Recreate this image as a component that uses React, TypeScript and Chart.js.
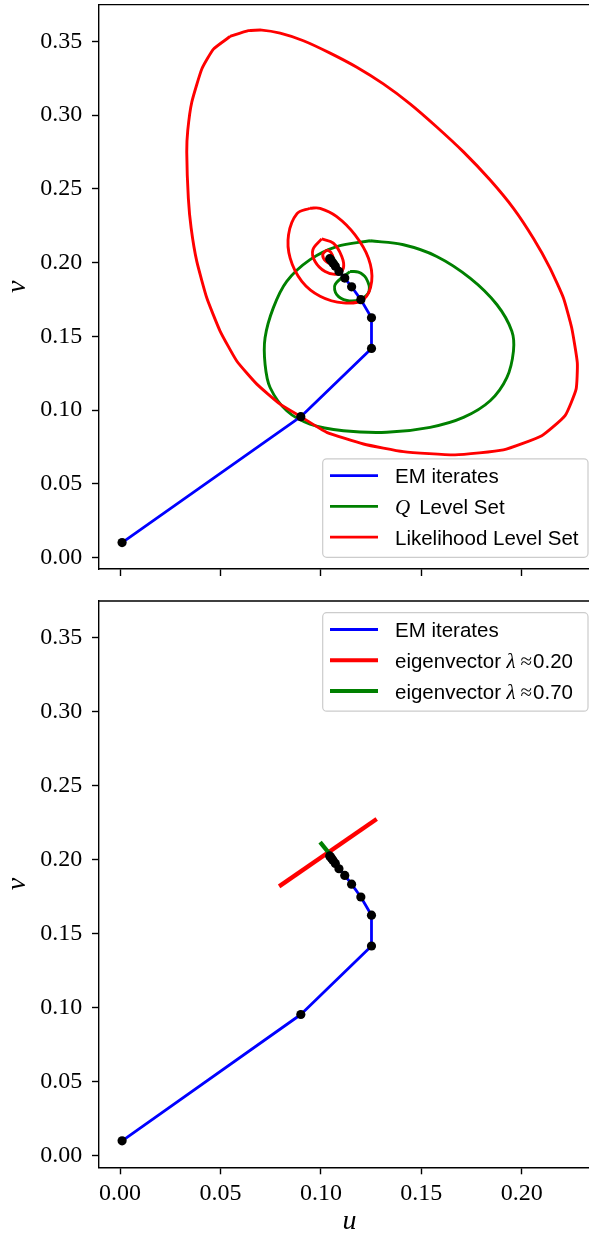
import React, { useEffect, useRef } from 'react';
import { Chart, registerables } from 'chart.js';

Chart.register(...registerables);

// ---- axes ----
const X_TICKS = [0, 0.05, 0.1, 0.15, 0.2];
const Y_TICKS = [0, 0.05, 0.1, 0.15, 0.2, 0.25, 0.3, 0.35];
const X_MIN = -0.0105;
const X_MAX = 0.239;
const Y_MIN = -0.0078;
const Y_MAX = 0.375;

// ---- EM iterates ----
const emU = [0.001, 0.09, 0.1252, 0.1252, 0.1199, 0.1153, 0.1119, 0.109, 0.1072, 0.106, 0.1052, 0.1047, 0.1044];
const emV = [0.0101, 0.0955, 0.1418, 0.1626, 0.1749, 0.1836, 0.1895, 0.194, 0.1976, 0.1998, 0.2012, 0.2021, 0.2027];

// ---- Likelihood level sets (red) ----
const likeOuterU = [0.0548, 0.0639, 0.0706, 0.0797, 0.0913, 0.1046, 0.1179, 0.1311, 0.1444, 0.1577, 0.171, 0.1843, 0.1959, 0.2058, 0.2141, 0.2208, 0.2249, 0.2277, 0.2271, 0.2216, 0.21, 0.1909, 0.1668, 0.1411, 0.1212, 0.1029, 0.09, 0.0797, 0.0681, 0.0581, 0.0498, 0.0432, 0.0382, 0.0354, 0.034, 0.0332, 0.0337, 0.0357, 0.0407, 0.0465, 0.0548];
const likeOuterV = [0.3534, 0.3573, 0.3577, 0.3556, 0.3505, 0.3421, 0.3325, 0.3212, 0.3077, 0.292, 0.2751, 0.256, 0.2368, 0.2165, 0.1963, 0.176, 0.1558, 0.1321, 0.1142, 0.0962, 0.0826, 0.073, 0.0696, 0.0718, 0.077, 0.0849, 0.0955, 0.104, 0.1176, 0.1333, 0.1536, 0.176, 0.2008, 0.2233, 0.2436, 0.2751, 0.2897, 0.3088, 0.3313, 0.3448, 0.3534];
const likeMidU = [0.0946, 0.0881, 0.0839, 0.0847, 0.0905, 0.0996, 0.1112, 0.1212, 0.1253, 0.1237, 0.117, 0.1079, 0.0996, 0.0946];
const likeMidV = [0.2369, 0.2332, 0.219, 0.203, 0.1873, 0.1772, 0.1727, 0.175, 0.1873, 0.203, 0.2188, 0.2312, 0.2368, 0.2369];
const likeSmallU = [0.1004, 0.096, 0.0971, 0.1021, 0.1082, 0.1112, 0.1104, 0.1062, 0.1004];
const likeSmallV = [0.2161, 0.2087, 0.2008, 0.194, 0.1922, 0.1963, 0.2042, 0.2132, 0.2161];
const likeTinyU = [0.1029, 0.1009, 0.1026, 0.1054, 0.1062, 0.1049, 0.1029];
const likeTinyV = [0.2087, 0.2053, 0.2008, 0.1997, 0.2026, 0.2071, 0.2087];

// ---- Q level sets (green) ----
const qBigU = [0.1245, 0.1411, 0.1577, 0.1743, 0.1876, 0.1951, 0.1959, 0.1926, 0.1843, 0.171, 0.1544, 0.1328, 0.1112, 0.0946, 0.083, 0.0747, 0.0722, 0.0722, 0.0763, 0.083, 0.0946, 0.1079, 0.1245];
const qBigV = [0.2148, 0.2121, 0.2042, 0.1895, 0.1716, 0.1535, 0.14, 0.122, 0.1063, 0.095, 0.0883, 0.0849, 0.086, 0.0905, 0.0995, 0.1153, 0.1311, 0.149, 0.1693, 0.1873, 0.202, 0.2109, 0.2148];
const qSmallU = [0.1145, 0.1071, 0.1079, 0.1129, 0.1195, 0.124, 0.1225, 0.1187, 0.1145];
const qSmallV = [0.194, 0.1851, 0.1783, 0.1743, 0.175, 0.1806, 0.1895, 0.1936, 0.194];
const qTinyU = [0.1055, 0.105, 0.106, 0.1075, 0.108, 0.1072, 0.1055];
const qTinyV = [0.201, 0.1995, 0.1978, 0.1975, 0.199, 0.2007, 0.201];

// ---- eigenvectors ----
const eigRedU = [0.0792, 0.1278];
const eigRedV = [0.1821, 0.2277];
const eigGreenU = [0.0996, 0.1079];
const eigGreenV = [0.212, 0.1981];

// ---- legend labels ----
const topLegend = ['EM iterates', 'Q|Level Set', 'Likelihood Level Set'];
const bottomLegend = ['EM iterates', 'eigenvector|λ|≈|0.20', 'eigenvector|λ|≈|0.70'];

const BLUE = '#0000ff';
const GREEN = '#008000';
const RED = '#ff0000';
const SERIF = '"Liberation Serif", "Times New Roman", serif';
const SANS_FONT = '20.5px "Liberation Sans", Arial, sans-serif';
const MATH_ITALIC = 'italic 21px "Liberation Serif", serif';
const MATH_UP = '21px "Liberation Serif", serif';

const pts = (us: number[], vs: number[]) => us.map((u, i) => ({ x: u, y: vs[i] }));

const curve = (us: number[], vs: number[], color: string, width: number, tension = 0) => ({
  data: pts(us, vs),
  showLine: true,
  borderColor: color,
  backgroundColor: color,
  borderWidth: width,
  borderJoinStyle: 'round',
  pointRadius: 0,
  pointHoverRadius: 0,
  tension,
  fill: false,
});

const emDataset = () => ({
  data: pts(emU, emV),
  showLine: true,
  borderColor: BLUE,
  borderWidth: 2.8,
  borderJoinStyle: 'round',
  pointRadius: 4.6,
  pointHoverRadius: 4.6,
  pointBackgroundColor: '#000',
  pointBorderColor: '#000',
  pointBorderWidth: 0,
  fill: false,
});

function makeScales(showXLabels: boolean, xAxisHeight: number) {
  const tickFont = { family: SERIF, size: 24 };
  return {
    x: {
      type: 'linear',
      min: X_MIN,
      max: X_MAX,
      afterBuildTicks: (s: any) => {
        s.ticks = X_TICKS.map((v) => ({ value: v }));
      },
      afterFit: (s: any) => {
        s.height = xAxisHeight;
        s.paddingLeft = 0;
        s.paddingRight = 0;
        s.paddingTop = 0;
        s.paddingBottom = 0;
      },
      ticks: {
        callback: (v: any) => (showXLabels ? Number(v).toFixed(2) : ''),
        font: tickFont,
        color: '#000',
        padding: 4.6,
        maxRotation: 0,
        minRotation: 0,
        autoSkip: false,
      },
      grid: { drawOnChartArea: false, drawTicks: true, tickLength: 7, tickColor: '#000', tickWidth: 1.4 },
      border: { display: true, color: '#000', width: 1.4 },
      title: showXLabels
        ? { display: true, text: 'u', color: '#000', padding: 0, font: { family: SERIF, style: 'italic', size: 28, lineHeight: 1.1 } }
        : { display: false },
    },
    y: {
      type: 'linear',
      min: Y_MIN,
      max: Y_MAX,
      afterBuildTicks: (s: any) => {
        s.ticks = Y_TICKS.map((v) => ({ value: v }));
      },
      afterFit: (s: any) => {
        s.width = 99;
        s.paddingLeft = 0;
        s.paddingRight = 0;
        s.paddingTop = 0;
        s.paddingBottom = 0;
      },
      ticks: {
        callback: (v: any) => Number(v).toFixed(2),
        font: tickFont,
        color: '#000',
        padding: 9.7,
        autoSkip: false,
      },
      grid: { drawOnChartArea: false, drawTicks: true, tickLength: 7, tickColor: '#000', tickWidth: 1.4 },
      border: { display: true, color: '#000', width: 1.4 },
      title: { display: true, text: 'v', color: '#000', padding: { top: 2, bottom: 0 }, font: { family: SERIF, style: 'italic', size: 28, lineHeight: 1.1 } },
    },
  };
}

const spinePlugin = {
  id: 'spines',
  afterDraw(chart: any) {
    const { ctx, chartArea } = chart;
    ctx.save();
    ctx.strokeStyle = '#000';
    ctx.lineWidth = 1.4;
    ctx.beginPath();
    ctx.moveTo(chartArea.left, chartArea.top);
    ctx.lineTo(chartArea.right, chartArea.top);
    ctx.lineTo(chartArea.right, chartArea.bottom);
    ctx.stroke();
    ctx.restore();
  },
};

type LegendItem = { label: string; color: string; width: number };

function partFont(label: string, idx: number): string {
  const parts = label.split('|');
  if (parts.length === 1) return SANS_FONT;
  if (parts[0] === 'Q') return idx === 0 ? MATH_ITALIC : SANS_FONT;
  if (idx === 1) return MATH_ITALIC;
  if (idx === 2) return MATH_UP;
  return SANS_FONT;
}

function partGap(label: string, idx: number): number {
  const parts = label.split('|');
  if (parts.length === 1) return 0;
  if (parts[0] === 'Q') return 9;
  if (idx === 0) return 5.5;
  if (idx === 1) return 5;
  if (idx === 2) return 1;
  return 0;
}

function legendPlugin(id: string, items: LegendItem[], corner: 'lower right' | 'upper right') {
  return {
    id,
    afterDraw(chart: any) {
      const { ctx, chartArea } = chart;
      const w = 265.3;
      const h = 98.5;
      const right = chartArea.right - 12;
      const left = right - w;
      const top = corner === 'lower right' ? chartArea.bottom - 11.7 - h : chartArea.top + 11.7;
      ctx.save();
      ctx.beginPath();
      (ctx as any).roundRect(left, top, w, h, 4);
      ctx.fillStyle = 'rgba(255,255,255,0.8)';
      ctx.fill();
      ctx.strokeStyle = '#cccccc';
      ctx.lineWidth = 1.2;
      ctx.stroke();
      items.forEach((it, i) => {
        const y = top + 16.8 + i * 30.8;
        ctx.beginPath();
        ctx.moveTo(left + 7.3, y);
        ctx.lineTo(left + 55.3, y);
        ctx.strokeStyle = it.color;
        ctx.lineWidth = it.width;
        ctx.lineCap = 'butt';
        ctx.stroke();
        let x = left + 72.3;
        ctx.fillStyle = '#000';
        ctx.textAlign = 'left';
        ctx.textBaseline = 'alphabetic';
        it.label.split('|').forEach((p, k) => {
          ctx.font = partFont(it.label, k);
          ctx.fillText(p, x, y + 7.6);
          x += ctx.measureText(p).width + partGap(it.label, k);
        });
      });
      ctx.restore();
    },
  };
}

function baseOptions(padTop: number, showXLabels: boolean, xAxisHeight: number) {
  return {
    responsive: false,
    animation: false,
    events: [],
    layout: { padding: { top: padTop, right: 10, left: 0, bottom: 0 } },
    plugins: { legend: { display: false }, tooltip: { enabled: false } },
    scales: makeScales(showXLabels, xAxisHeight),
  };
}

export default function App() {
  const topRef = useRef<HTMLCanvasElement>(null);
  const botRef = useRef<HTMLCanvasElement>(null);

  useEffect(() => {
    const topChart = new Chart(topRef.current as HTMLCanvasElement, {
      type: 'scatter',
      data: {
        datasets: [
          emDataset(),
          curve(likeOuterU, likeOuterV, RED, 2.9, 0.15),
          curve(likeMidU, likeMidV, RED, 2.9, 0.35),
          curve(likeSmallU, likeSmallV, RED, 2.9, 0.35),
          curve(likeTinyU, likeTinyV, RED, 2.9, 0.35),
          curve(qBigU, qBigV, GREEN, 2.9, 0.35),
          curve(qSmallU, qSmallV, GREEN, 2.9, 0.35),
          curve(qTinyU, qTinyV, GREEN, 2.9, 0.35),
        ] as any,
      },
      options: baseOptions(2, false, 21) as any,
      plugins: [
        spinePlugin,
        legendPlugin('topLegend', [
          { label: topLegend[0], color: BLUE, width: 2.8 },
          { label: topLegend[1], color: GREEN, width: 2.8 },
          { label: topLegend[2], color: RED, width: 2.8 },
        ], 'lower right'),
      ] as any,
    });

    const bottomChart = new Chart(botRef.current as HTMLCanvasElement, {
      type: 'scatter',
      data: {
        datasets: [
          emDataset(),
          curve(eigGreenU, eigGreenV, GREEN, 4.3),
          curve(eigRedU, eigRedV, RED, 4.3),
        ] as any,
      },
      options: baseOptions(11, true, 69.7) as any,
      plugins: [
        spinePlugin,
        legendPlugin('bottomLegend', [
          { label: bottomLegend[0], color: BLUE, width: 2.8 },
          { label: bottomLegend[1], color: RED, width: 4 },
          { label: bottomLegend[2], color: GREEN, width: 4 },
        ], 'upper right'),
      ] as any,
    });

    return () => {
      topChart.destroy();
      bottomChart.destroy();
    };
  }, []);

  return (
    <div style={{ position: 'fixed', left: 0, top: 0, width: 589, height: 1237, overflow: 'hidden', background: '#fff' }}>
      <canvas ref={topRef} width={610} height={590} style={{ position: 'absolute', left: 0, top: 0, width: 610, height: 590 }} />
      <canvas ref={botRef} width={610} height={647} style={{ position: 'absolute', left: 0, top: 590, width: 610, height: 647 }} />
    </div>
  );
}
